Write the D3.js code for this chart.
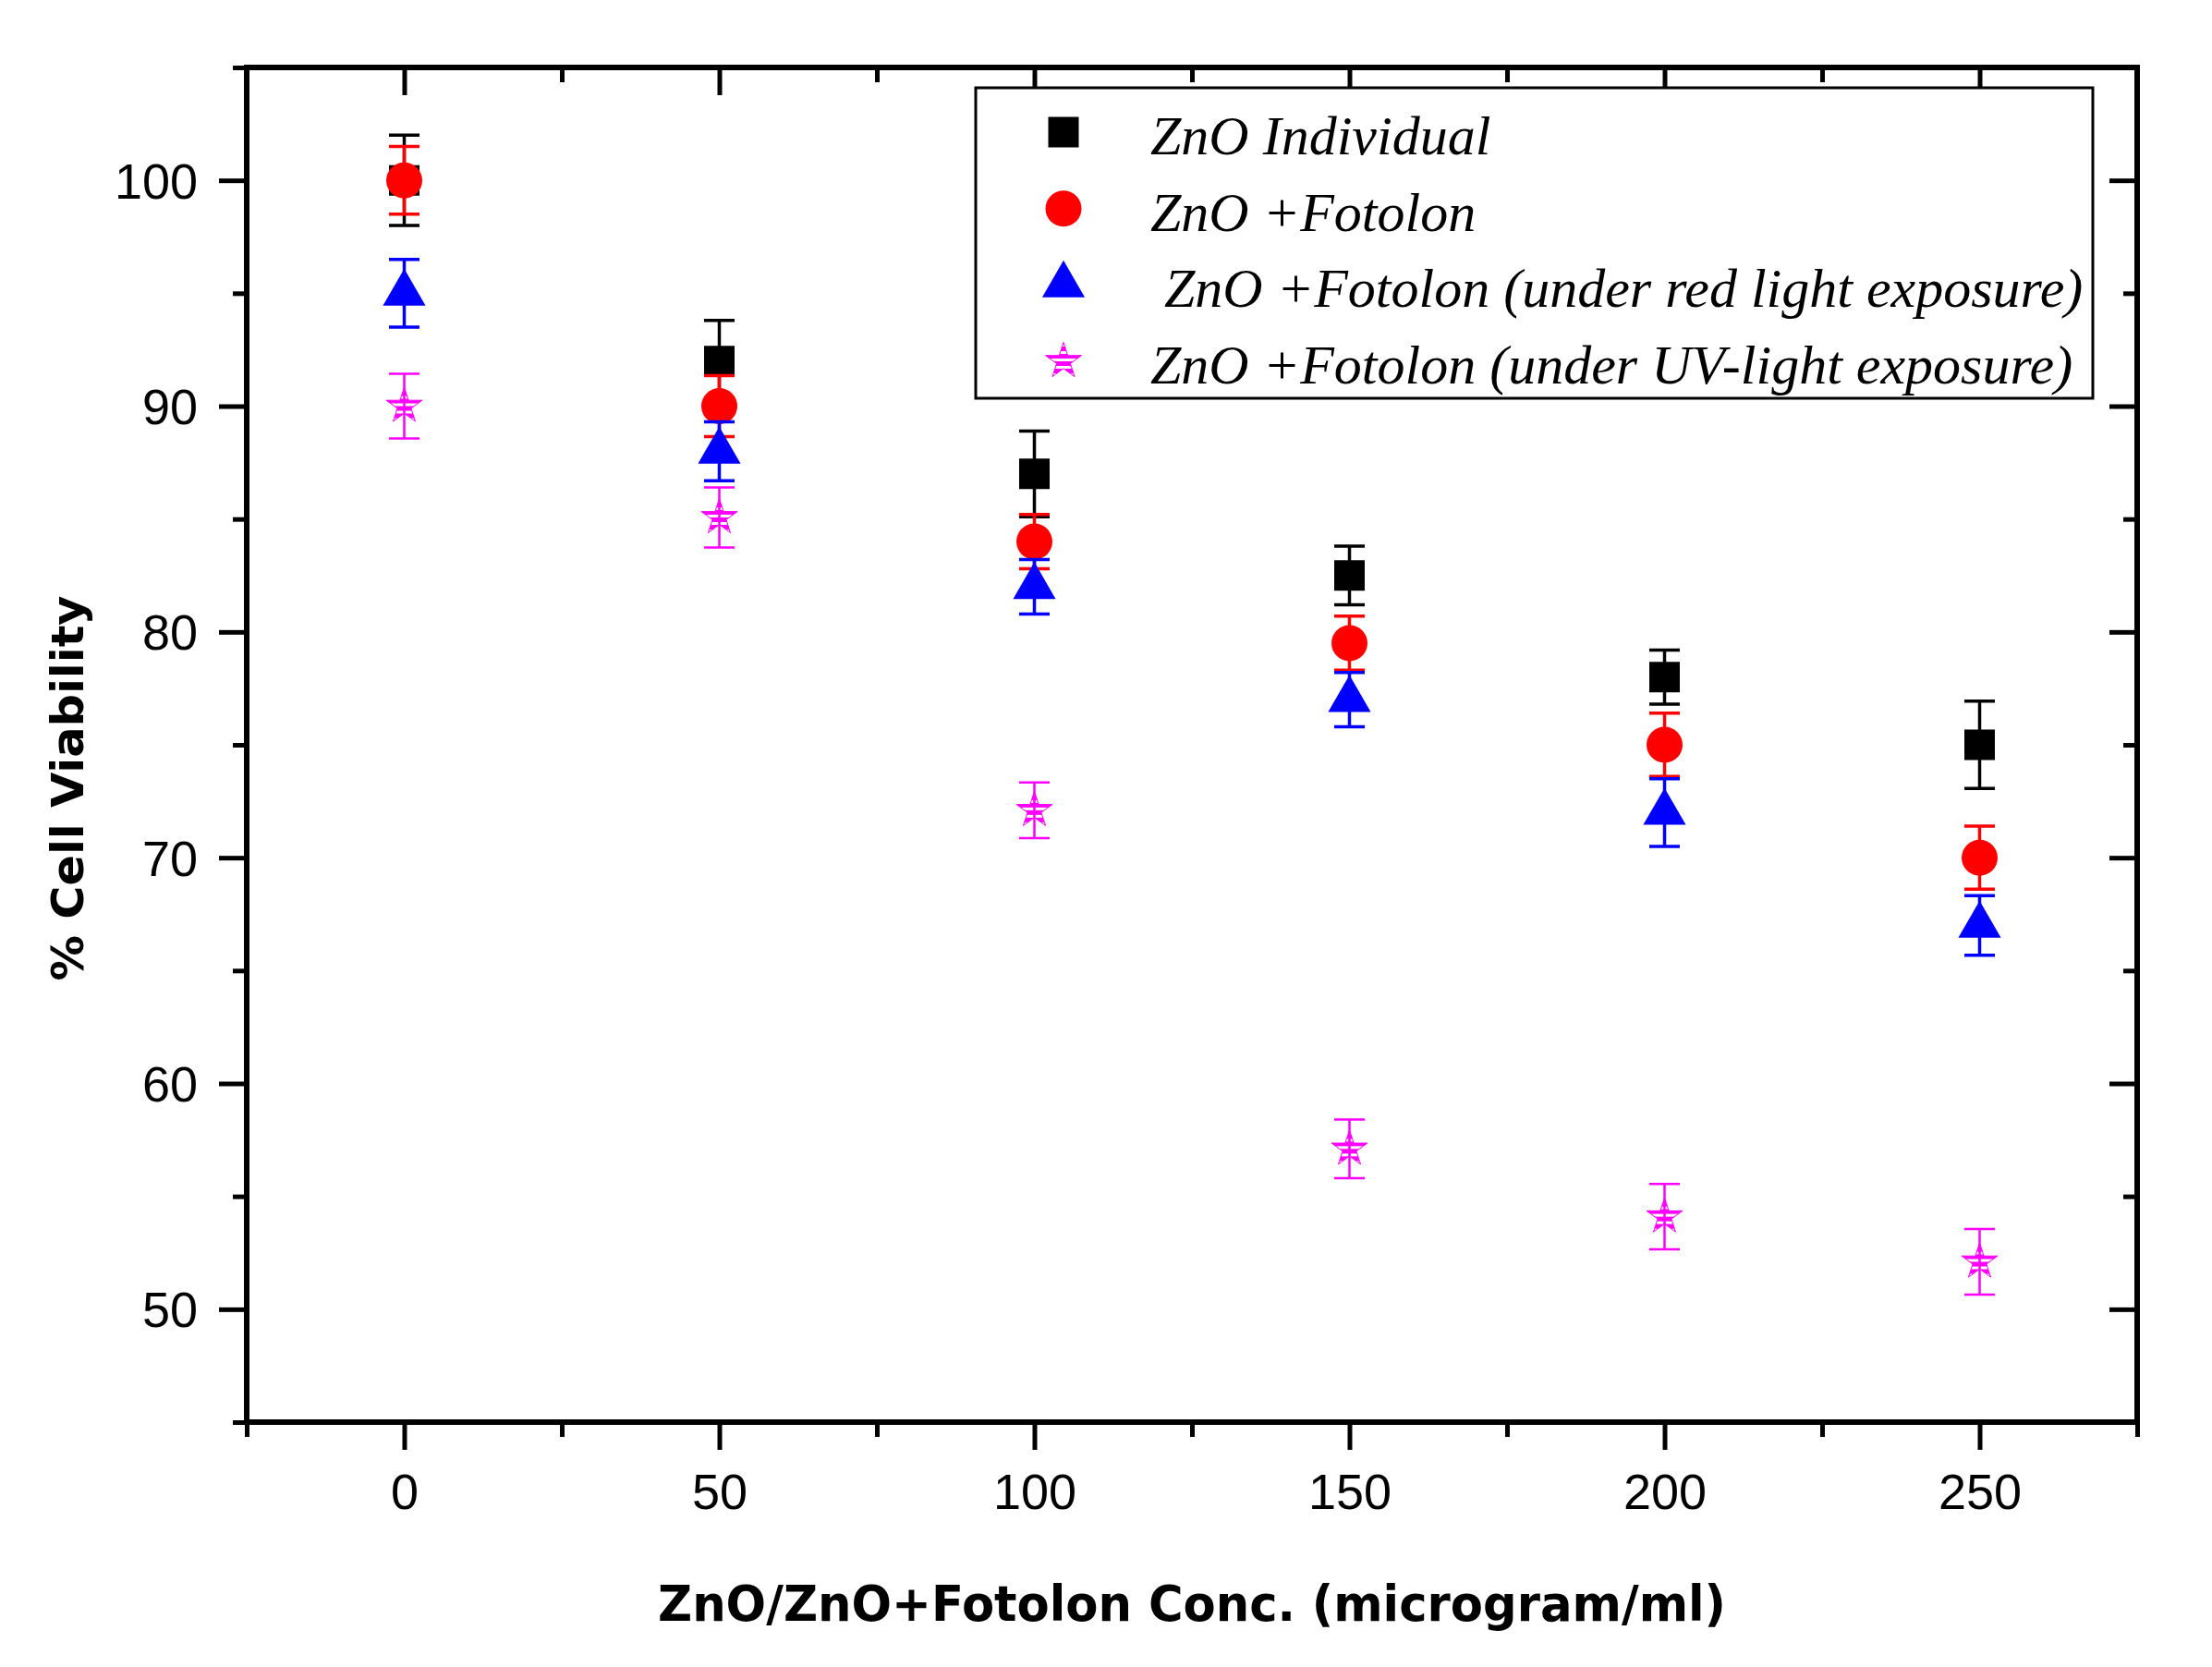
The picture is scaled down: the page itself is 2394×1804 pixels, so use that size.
<!DOCTYPE html>
<html><head><meta charset="utf-8">
<script src="https://cdn.jsdelivr.net/npm/d3@7"></script>
<style>html,body{margin:0;padding:0;background:#fff;} svg{display:block;}</style>
</head><body><svg id="chart" width="2394" height="1804"></svg>
<script>
// ---------- data ----------
const concentrations = [0, 50, 100, 150, 200, 250];
const seriesNames = ["ZnO Individual", "ZnO +Fotolon", " ZnO +Fotolon (under red light exposure)", "ZnO +Fotolon (under UV-light exposure)"];
const znoIndividual      = [100, 92, 87, 82.5, 78, 75];
const znoIndividualErr   = [2.0, 1.8, 1.9, 1.3, 1.2, 1.93];
const znoFotolon         = [100, 90, 84, 79.5, 75, 70];
const znoFotolonErr      = [1.5, 1.35, 1.2, 1.2, 1.4, 1.4];
const znoFotolonRed      = [95, 88, 82, 77, 72, 67];
const znoFotolonRedErr   = [1.5, 1.3, 1.21, 1.2, 1.5, 1.32];
const znoFotolonUV       = [90, 85.07, 72.1, 57.1, 54.1, 52.1];
const znoFotolonUVErr    = [1.43, 1.33, 1.23, 1.3, 1.45, 1.45];
const xMajorTicks = [0, 50, 100, 150, 200, 250];
const xMinorTicks = [-25, 25, 75, 125, 175, 225, 275];
const yMajorTicks = [50, 60, 70, 80, 90, 100];
const yMinorTicks = [45, 55, 65, 75, 85, 95, 105];
const xTitle = "ZnO/ZnO+Fotolon Conc. (microgram/ml)";
const yTitle = "% Cell Viability";

// ---------- layout ----------
const svg = d3.select("#chart");
const L = 267, R = 2313, T = 73, B = 1539;
const x = d3.scaleLinear().domain([-25, 275]).range([L, R]);
const y = d3.scaleLinear().domain([45, 105]).range([B, T]);

const defs = svg.append("defs");
const pat = defs.append("pattern").attr("id", "stripes")
  .attr("patternUnits", "userSpaceOnUse").attr("width", 8).attr("height", 8);
pat.append("rect").attr("width", 8).attr("height", 5).attr("fill", "#ff00ff");

const series = [
  {name: seriesNames[0], vals: znoIndividual, errs: znoIndividualErr, color: "#000000", sym: d3.symbolSquare, size: 33*33, fill: "#000000", lw: 3.5},
  {name: seriesNames[1], vals: znoFotolon, errs: znoFotolonErr, color: "#ff0000", sym: d3.symbolCircle, size: Math.PI*19.5*19.5, fill: "#ff0000", lw: 3.5},
  {name: seriesNames[2], vals: znoFotolonRed, errs: znoFotolonRedErr, color: "#0000ff", sym: d3.symbolTriangle, size: 920, fill: "#0000ff", lw: 3.5},
  {name: seriesNames[3], vals: znoFotolonUV, errs: znoFotolonUVErr, color: "#ff00ff", sym: d3.symbolStar, size: 470, fill: "url(#stripes)", lw: 2.5}
];

const tickFont = "'Liberation Sans', Arial, sans-serif";

// ---------- axes ----------
function styleAxis(g, width) {
  g.select(".domain").remove();
  g.selectAll(".tick line").attr("stroke", "#000").attr("stroke-width", width).attr("stroke-linecap", "butt");
}
// bottom
svg.append("g").attr("transform", `translate(0,${B})`)
  .call(d3.axisBottom(x).tickValues(xMinorTicks).tickSize(16).tickFormat(""))
  .call(g => styleAxis(g, 5));
svg.append("g").attr("transform", `translate(0,${B})`)
  .call(d3.axisBottom(x).tickValues(xMajorTicks).tickSize(30).tickFormat(d3.format("d")))
  .call(g => styleAxis(g, 5))
  .call(g => g.selectAll("text").attr("y", 94).attr("dy", 0)
    .attr("font-family", tickFont).attr("font-size", 54).attr("fill", "#000"));
// top (ticks pointing inward)
svg.append("g").attr("transform", `translate(0,${T})`)
  .call(d3.axisBottom(x).tickValues(xMinorTicks).tickSize(16).tickFormat(""))
  .call(g => styleAxis(g, 5));
svg.append("g").attr("transform", `translate(0,${T})`)
  .call(d3.axisBottom(x).tickValues(xMajorTicks).tickSize(30).tickFormat(""))
  .call(g => styleAxis(g, 5));
// left
svg.append("g").attr("transform", `translate(${L},0)`)
  .call(d3.axisLeft(y).tickValues(yMinorTicks).tickSize(15).tickFormat(""))
  .call(g => styleAxis(g, 5));
svg.append("g").attr("transform", `translate(${L},0)`)
  .call(d3.axisLeft(y).tickValues(yMajorTicks).tickSize(30).tickFormat(d3.format("d")))
  .call(g => styleAxis(g, 5))
  .call(g => g.selectAll("text").attr("x", -53).attr("dy", "0.35em")
    .attr("font-family", tickFont).attr("font-size", 54).attr("fill", "#000"));
// right (ticks pointing inward)
svg.append("g").attr("transform", `translate(${R},0)`)
  .call(d3.axisLeft(y).tickValues(yMinorTicks).tickSize(15).tickFormat(""))
  .call(g => styleAxis(g, 5));
svg.append("g").attr("transform", `translate(${R},0)`)
  .call(d3.axisLeft(y).tickValues(yMajorTicks).tickSize(30).tickFormat(""))
  .call(g => styleAxis(g, 5));
// frame
svg.append("rect").attr("x", L).attr("y", T).attr("width", R - L).attr("height", B - T)
  .attr("fill", "none").attr("stroke", "#000").attr("stroke-width", 6);

// ---------- titles ----------
svg.append("text").attr("x", (L + R) / 2).attr("y", 1754)
  .attr("text-anchor", "middle").attr("font-family", "'DejaVu Sans', Verdana, sans-serif")
  .attr("font-weight", "bold").attr("font-size", 53)
  .attr("textLength", 1156).attr("lengthAdjust", "spacingAndGlyphs")
  .text(xTitle);
svg.append("text").attr("transform", "translate(90,853) rotate(-90)")
  .attr("text-anchor", "middle").attr("font-family", "'DejaVu Sans', Verdana, sans-serif")
  .attr("font-weight", "bold").attr("font-size", 48)
  .attr("textLength", 417).attr("lengthAdjust", "spacingAndGlyphs")
  .text(yTitle);

// ---------- data marks ----------
const capW = 33;
series.forEach(s => {
  const g = svg.append("g");
  const pts = concentrations.map((c, i) => ({c, v: s.vals[i], e: s.errs[i]}));
  const eb = g.selectAll("g.eb").data(pts).join("g");
  eb.append("line").attr("x1", d => x(d.c)).attr("x2", d => x(d.c))
    .attr("y1", d => y(d.v + d.e)).attr("y2", d => y(d.v - d.e))
    .attr("stroke", s.color).attr("stroke-width", s.lw);
  eb.append("line").attr("x1", d => x(d.c) - capW / 2).attr("x2", d => x(d.c) + capW / 2)
    .attr("y1", d => y(d.v + d.e)).attr("y2", d => y(d.v + d.e))
    .attr("stroke", s.color).attr("stroke-width", s.lw);
  eb.append("line").attr("x1", d => x(d.c) - capW / 2).attr("x2", d => x(d.c) + capW / 2)
    .attr("y1", d => y(d.v - d.e)).attr("y2", d => y(d.v - d.e))
    .attr("stroke", s.color).attr("stroke-width", s.lw);
  g.selectAll("path.mk").data(pts).join("path").attr("class", "mk")
    .attr("transform", d => `translate(${x(d.c)},${y(d.v)})`)
    .attr("d", d3.symbol(s.sym, s.size))
    .attr("fill", s.fill)
    .attr("stroke", s.sym === d3.symbolStar ? "#ff00ff" : "none")
    .attr("stroke-width", s.sym === d3.symbolStar ? 1 : 0);
});

// ---------- legend ----------
const legX = 1056, legY = 95, legW = 1209, legH = 336;
const lg = svg.append("g");
lg.append("rect").attr("x", legX).attr("y", legY).attr("width", legW).attr("height", legH)
  .attr("fill", "#fff").attr("stroke", "#000").attr("stroke-width", 3);
const rowY = d3.scaleLinear().domain([0, 3]).range([143, 391]);
series.forEach((s, i) => {
  lg.append("path").attr("transform", `translate(1151,${rowY(i)})`)
    .attr("d", d3.symbol(s.sym, s.size)).attr("fill", s.fill)
    .attr("stroke", s.sym === d3.symbolStar ? "#ff00ff" : "none").attr("stroke-width", 1);
  lg.append("text").attr("x", 1245).attr("y", rowY(i) + 24)
    .attr("font-family", "'Liberation Serif', 'Times New Roman', serif")
    .attr("font-style", "italic").attr("font-size", 60)
    .style("white-space", "pre")
    .text(s.name);
});
</script>
</body></html>
